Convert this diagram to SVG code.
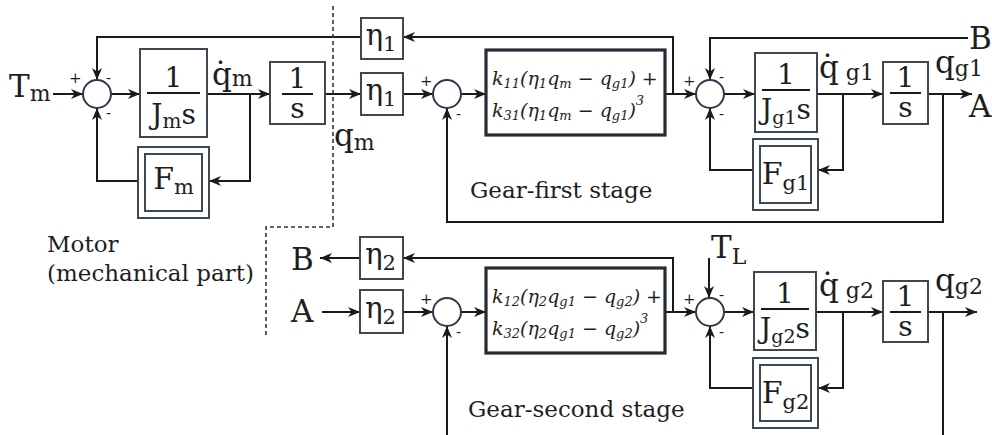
<svg xmlns="http://www.w3.org/2000/svg" width="992" height="435" viewBox="0 0 992 435">
<defs>
<marker id="ah" viewBox="0 0 12 10" refX="12" refY="5" markerWidth="12" markerHeight="10" markerUnits="userSpaceOnUse" orient="auto"><path d="M0,0 L12,5 L0,10 L3.5,5 z" fill="#1a1a1a"/></marker>
<style>
.ln{fill:none;stroke:#1a1a1a;stroke-width:2}
.ar{fill:none;stroke:#1a1a1a;stroke-width:2;marker-end:url(#ah)}
.bx{fill:#fff;stroke:#3d4756;stroke-width:2}
.kb{fill:#fff;stroke:#262c36;stroke-width:3.2}
.sm{fill:#fff;stroke:#2f3a4a;stroke-width:2}
.dash{fill:none;stroke:#333;stroke-width:1.6;stroke-dasharray:4 3}
text{font-family:"DejaVu Serif","Liberation Serif",serif;fill:#1e1e1e}
.big{font-size:31px}
.fr{font-size:28px}
.sg{font-size:15px}
.mt{font-size:19px;font-style:italic}
.lb{font-size:23px}
</style>
</defs>

<g id="connectors">
<path class="ar" d="M53,94 H83"/>
<path class="ar" d="M111,94 H140"/>
<path class="ar" d="M207,94 H270"/>
<path class="ar" d="M250,94 V181 H209"/>
<path class="ar" d="M138,181 H97 V108"/>
<path class="ar" d="M361,37 H97 V80"/>
<path class="ar" d="M325,94 H361"/>
<path class="ar" d="M403,94 H433"/>
<path class="ar" d="M461,94 H486"/>
<path class="ar" d="M665,94 H696"/>
<path class="ar" d="M673,94 V37 H403"/>
<path class="ar" d="M968,38 H710 V80"/>
<path class="ar" d="M724,94 H755"/>
<path class="ar" d="M817,94 H883"/>
<path class="ar" d="M843,94 V170 H818"/>
<path class="ar" d="M753,170 H710 V108"/>
<path class="ar" d="M928,94 H972"/>
<path class="ar" d="M943,94 V222 H447 V108"/>
<path class="ar" d="M360,258 H320"/>
<path class="ar" d="M322,312 H360"/>
<path class="ar" d="M403,312 H433"/>
<path class="ar" d="M447,435 V326"/>
<path class="ar" d="M461,312 H486"/>
<path class="ar" d="M665,312 H696"/>
<path class="ar" d="M673,312 V258 H403"/>
<path class="ar" d="M709,258 V298"/>
<path class="ar" d="M724,312 H754"/>
<path class="ar" d="M816,312 H883"/>
<path class="ar" d="M843,312 V388 H818"/>
<path class="ar" d="M753,388 H710 V326"/>
<path class="ar" d="M928,312 H977"/>
<path class="ln" d="M943,312 V435"/>
</g>

<path id="boundary" class="dash" d="M333,6 V227 H266 V338"/>

<g id="Tm"><text class="big" x="9" y="97">T<tspan font-size="22" dy="4">m</tspan></text></g>
<g id="sum-motor">
<circle class="sm" cx="97" cy="94" r="14"/>
<text class="sg" x="69" y="83">+</text>
<text class="sg" x="106" y="83">-</text>
<text class="sg" x="106" y="118">-</text>
</g>
<g id="Jm">
<rect class="bx" x="140" y="49" width="67" height="88"/>
<path class="ln" d="M147,93 H200"/>
<text class="fr" x="173.5" y="87" text-anchor="middle">1</text>
<text class="fr" x="173.5" y="124" text-anchor="middle">J<tspan font-size="20" dy="4">m</tspan><tspan dy="-4">s</tspan></text>
</g>
<g id="qdm"><text class="big" x="212" y="85">q̇<tspan font-size="22" dy="1">m</tspan></text></g>
<g id="int-m">
<rect class="bx" x="270" y="62" width="55" height="62"/>
<path class="ln" d="M282,94 H313"/>
<text class="fr" x="297.5" y="88" text-anchor="middle">1</text>
<text class="fr" x="297.5" y="118" text-anchor="middle">s</text>
</g>
<g id="Fm">
<rect class="bx" x="138" y="147" width="71" height="71"/>
<rect class="bx" x="145" y="154" width="57" height="57"/>
<text x="173.5" y="189" font-size="30" text-anchor="middle">F<tspan font-size="21" dy="5">m</tspan></text>
</g>
<g id="qm"><text class="big" x="334" y="146">q<tspan font-size="22" dy="4">m</tspan></text></g>
<g id="motor-label">
<text class="lb" x="47" y="252">Motor</text>
<text class="lb" x="47" y="281">(mechanical part)</text>
</g>

<g id="eta1-fb">
<rect class="bx" x="361" y="18" width="42" height="41"/>
<text x="381" y="45" font-size="29" text-anchor="middle">η<tspan font-size="21" dy="6">1</tspan></text>
</g>
<g id="eta1-in">
<rect class="bx" x="361" y="73" width="42" height="42"/>
<text x="381" y="100" font-size="29" text-anchor="middle">η<tspan font-size="21" dy="6">1</tspan></text>
</g>
<g id="sum-g1a">
<circle class="sm" cx="447" cy="94" r="14"/>
<text class="sg" x="420" y="86">+</text>
<text class="sg" x="456" y="119">-</text>
</g>
<g id="k1">
<rect class="kb" x="486" y="50" width="179" height="85"/>
<text class="mt" x="492" y="85">k<tspan font-size="13" dy="3">11</tspan><tspan dy="-3">(η</tspan><tspan font-size="13" dy="3">1</tspan><tspan dy="-3">q</tspan><tspan font-size="13" dy="3">m</tspan><tspan dy="-3"> − q</tspan><tspan font-size="13" dy="3">g1</tspan><tspan dy="-3">) +</tspan></text>
<text class="mt" x="492" y="117">k<tspan font-size="13" dy="3">31</tspan><tspan dy="-3">(η</tspan><tspan font-size="13" dy="3">1</tspan><tspan dy="-3">q</tspan><tspan font-size="13" dy="3">m</tspan><tspan dy="-3"> − q</tspan><tspan font-size="13" dy="3">g1</tspan><tspan dy="-3">)</tspan><tspan font-size="13" dy="-12">3</tspan></text>
</g>
<g id="sum-g1b">
<circle class="sm" cx="710" cy="94" r="14"/>
<text class="sg" x="683" y="86">+</text>
<text class="sg" x="719" y="82">-</text>
<text class="sg" x="719" y="119">-</text>
</g>
<g id="B-out"><text class="big" x="969" y="49">B</text></g>
<g id="Jg1">
<rect class="bx" x="755" y="53" width="62" height="79"/>
<path class="ln" d="M762,90 H810"/>
<text class="fr" x="786" y="84" text-anchor="middle">1</text>
<text class="fr" x="786" y="119" text-anchor="middle">J<tspan font-size="19" dy="5">g1</tspan><tspan dy="-5">s</tspan></text>
</g>
<g id="qdg1"><text class="big" x="819" y="78">q̇<tspan font-size="22" dy="2"> g1</tspan></text></g>
<g id="int-g1">
<rect class="bx" x="883" y="62" width="45" height="62"/>
<path class="ln" d="M890,93 H921"/>
<text class="fr" x="905.5" y="87" text-anchor="middle">1</text>
<text class="fr" x="905.5" y="117" text-anchor="middle">s</text>
</g>
<g id="qg1"><text class="big" x="935" y="73">q<tspan font-size="22" dy="3">g1</tspan></text></g>
<g id="A-out"><text class="big" x="969" y="117">A</text></g>
<g id="Fg1">
<rect class="bx" x="753" y="139" width="65" height="71"/>
<rect class="bx" x="760" y="146" width="51" height="57"/>
<text x="785.5" y="184" font-size="30" text-anchor="middle">F<tspan font-size="21" dy="6">g1</tspan></text>
</g>
<g id="stage1-label"><text class="lb" x="470" y="198">Gear-first stage</text></g>

<g id="B-in"><text class="big" x="291" y="270">B</text></g>
<g id="A-in"><text class="big" x="291" y="322">A</text></g>
<g id="eta2-fb">
<rect class="bx" x="360" y="237" width="43" height="42"/>
<text x="380.5" y="264" font-size="29" text-anchor="middle">η<tspan font-size="21" dy="6">2</tspan></text>
</g>
<g id="eta2-in">
<rect class="bx" x="360" y="290" width="43" height="43"/>
<text x="380.5" y="318" font-size="29" text-anchor="middle">η<tspan font-size="21" dy="6">2</tspan></text>
</g>
<g id="sum-g2a">
<circle class="sm" cx="447" cy="312" r="14"/>
<text class="sg" x="420" y="304">+</text>
<text class="sg" x="456" y="337">-</text>
</g>
<g id="k2">
<rect class="kb" x="486" y="268" width="179" height="85"/>
<text class="mt" x="492" y="303">k<tspan font-size="13" dy="3">12</tspan><tspan dy="-3">(η</tspan><tspan font-size="13" dy="3">2</tspan><tspan dy="-3">q</tspan><tspan font-size="13" dy="3">g1</tspan><tspan dy="-3"> − q</tspan><tspan font-size="13" dy="3">g2</tspan><tspan dy="-3">) +</tspan></text>
<text class="mt" x="492" y="335">k<tspan font-size="13" dy="3">32</tspan><tspan dy="-3">(η</tspan><tspan font-size="13" dy="3">2</tspan><tspan dy="-3">q</tspan><tspan font-size="13" dy="3">g1</tspan><tspan dy="-3"> − q</tspan><tspan font-size="13" dy="3">g2</tspan><tspan dy="-3">)</tspan><tspan font-size="13" dy="-12">3</tspan></text>
</g>
<g id="TL"><text class="big" x="711" y="258">T<tspan font-size="22" dy="6">L</tspan></text></g>
<g id="sum-g2b">
<circle class="sm" cx="710" cy="312" r="14"/>
<text class="sg" x="683" y="304">+</text>
<text class="sg" x="719" y="300">-</text>
<text class="sg" x="719" y="337">-</text>
</g>
<g id="Jg2">
<rect class="bx" x="754" y="272" width="62" height="78"/>
<path class="ln" d="M761,309 H809"/>
<text class="fr" x="785" y="303" text-anchor="middle">1</text>
<text class="fr" x="785" y="338" text-anchor="middle">J<tspan font-size="19" dy="5">g2</tspan><tspan dy="-5">s</tspan></text>
</g>
<g id="qdg2"><text class="big" x="819" y="296">q̇<tspan font-size="22" dy="2"> g2</tspan></text></g>
<g id="int-g2">
<rect class="bx" x="883" y="281" width="45" height="61"/>
<path class="ln" d="M890,312 H921"/>
<text class="fr" x="905.5" y="306" text-anchor="middle">1</text>
<text class="fr" x="905.5" y="336" text-anchor="middle">s</text>
</g>
<g id="qg2"><text class="big" x="935" y="291">q<tspan font-size="22" dy="3">g2</tspan></text></g>
<g id="Fg2">
<rect class="bx" x="753" y="358" width="65" height="70"/>
<rect class="bx" x="760" y="365" width="51" height="56"/>
<text x="785.5" y="403" font-size="30" text-anchor="middle">F<tspan font-size="21" dy="6">g2</tspan></text>
</g>
<g id="stage2-label"><text class="lb" x="468" y="417">Gear-second stage</text></g>
</svg>
